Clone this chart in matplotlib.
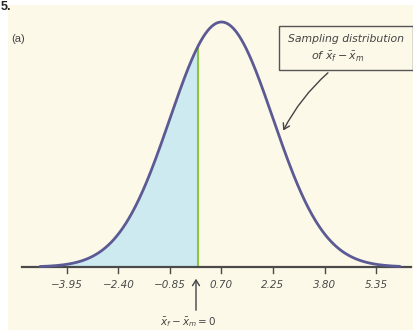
import numpy as np
import matplotlib
matplotlib.use("Agg")
import matplotlib.pyplot as plt
from matplotlib.patches import Rectangle, FancyArrowPatch

mean = 0.70
sd = 1.55
tick_values = [-3.95, -2.40, -0.85, 0.70, 2.25, 3.80, 5.35]
tick_labels = ["−3.95", "−2.40", "−0.85", "0.70", "2.25", "3.80", "5.35"]
shade_cut = 0.0

W, H = 414, 330
fig = plt.figure(figsize=(W / 100, H / 100), dpi=100)
fig.patch.set_facecolor("white")

ax = fig.add_axes([0, 0, 1, 1])
ax.set_facecolor("none")
ax.add_patch(Rectangle((8 / W, 0), 1 - 8 / W, (H - 5) / H, transform=fig.transFigure,
                       facecolor="#fdf9e9", edgecolor="none", zorder=0, clip_on=False))
# pixel mapping
px_per_unit = 51.5 / 1.55
center_px = 221.5
xmin = mean - center_px / px_per_unit
xmax = mean + (W - center_px) / px_per_unit
peak = 1 / (sd * np.sqrt(2 * np.pi))
ypx = 245 / peak
ymin = -63 / ypx
ymax = (H - 63) / ypx
ax.set_xlim(xmin, xmax)
ax.set_ylim(ymin, ymax)
ax.axis("off")

def px2x(p):
    return mean + (p - center_px) / px_per_unit

def py2y(p):
    return (H - 63 - p) / ypx

x = np.linspace(px2x(40), px2x(400), 600)
y = np.exp(-0.5 * ((x - mean) / sd) ** 2) / (sd * np.sqrt(2 * np.pi))

xs = x[x <= shade_cut]
ys = y[x <= shade_cut]
ax.fill_between(xs, 0, ys, color="#cdeaf1", zorder=1, linewidth=0)
ycut = np.exp(-0.5 * ((shade_cut - mean) / sd) ** 2) / (sd * np.sqrt(2 * np.pi))
ax.plot([shade_cut, shade_cut], [0, ycut], color="#8cc63f", lw=1.5, zorder=2)

ax.plot([px2x(22), px2x(411)], [0, 0], color="#4a4a4a", lw=1.6, zorder=3)
ax.plot(x, y, color="#5c5a94", lw=2.0, zorder=4, solid_capstyle="round")

for v, lab in zip(tick_values, tick_labels):
    ax.plot([v, v], [0, -6 / ypx], color="#4a4a4a", lw=1.0, zorder=3)
    ax.text(v, py2y(285), lab, ha="center", va="center", fontsize=7.5,
            style="italic", color="#4a4a4a", family="DejaVu Sans")

# "(a)" and cropped number
fig.text(11 / W, 1 - 39 / H, "(a)", fontsize=8, color="#444444", ha="left", va="center",
         family="Liberation Sans")
fig.text(0.5 / W, 1 - 0.5 / H, "5.", fontsize=9, fontweight="bold", color="#222222",
         ha="left", va="top", family="Liberation Sans")

# annotation box
ax.add_patch(Rectangle((px2x(279), py2y(70)), (413 - 279) / px_per_unit, (70 - 26) / ypx,
                       facecolor="#fdf9e9", edgecolor="#555555", lw=1.0, zorder=5))
ax.text(px2x(346), py2y(39), "Sampling distribution", ha="center", va="center",
        fontsize=7.8, style="italic", color="#444444", zorder=6)
ax.text(px2x(338), py2y(57), r"of $\bar{x}_f - \bar{x}_m$", ha="center", va="center",
        fontsize=8, style="italic", color="#444444", zorder=6)
arr = FancyArrowPatch((px2x(330), py2y(71)), (px2x(282), py2y(133)),
                      connectionstyle="arc3,rad=0.1", arrowstyle="->,head_length=4,head_width=2.5",
                      color="#444444", lw=1.0, zorder=6)
ax.add_patch(arr)

arr2 = FancyArrowPatch((px2x(196), py2y(313)), (px2x(196), py2y(276)),
                       arrowstyle="->,head_length=4,head_width=2.5",
                       color="#444444", lw=1.0, zorder=6)
ax.add_patch(arr2)
ax.text(px2x(188), py2y(322), r"$\bar{x}_f - \bar{x}_m = 0$", ha="center", va="center",
        fontsize=7.5, color="#444444", zorder=6)

fig.savefig("out.png", dpi=100)
